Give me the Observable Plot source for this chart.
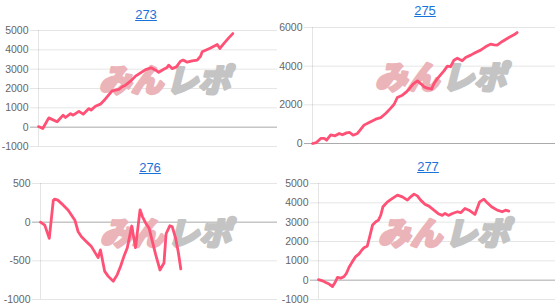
<!DOCTYPE html>
<html><head><meta charset="utf-8">
<script src="https://cdn.jsdelivr.net/npm/d3@7"></script>
<script src="https://cdn.jsdelivr.net/npm/@observablehq/plot@0.6"></script>
<style>
html,body{margin:0;padding:0;background:#fff;}
body{width:555px;height:306px;overflow:hidden;position:relative;font-family:Arial,"Liberation Sans",sans-serif;}
.panel{position:absolute;}
.title{position:absolute;transform:translate(-50%,-50%);font-size:13px;line-height:16px;color:#1a73d9;text-decoration:underline;white-space:nowrap;}
</style></head><body>
<script>
// Machine numbers (panel titles)
const titles = ["273", "275", "276", "277"];

// Progress along the x axis (share of the axis, %) and balance values for each machine
const x273 = [0,1.8,4.3,7.8,10.3,11.3,13.4,14.5,16.9,18.7,21.1,22.0,23.8,25.9,27.3,28.7,30.8,33.6,35.0,36.4,38.5,40.6,42.7,44.8,47.1,49.0,50.3,52.2,53.8,54.5,55.9,57.7,59.4,60.5,62.2,64.3,66.4,67.8,68.5,69.9,72.0,73.4,74.8,75.9,77.6,79.6,81.3];
const y273 = [30,-70,480,280,620,500,700,620,820,670,960,880,1080,1190,1360,1570,1880,1950,2090,2170,2380,2640,2810,2980,3070,2950,2840,2980,3090,3210,3030,3120,3410,3470,3360,3430,3470,3670,3900,3980,4100,4190,4280,4070,4330,4620,4840];

const x275 = [0,1.6,3.4,4.8,5.8,7.5,9.3,11.0,12.3,14.0,15.3,16.7,18.5,19.9,21.2,23.3,26.0,28.1,30.1,32.2,33.6,34.9,37.0,38.4,39.7,41.4,43.2,44.5,45.9,47.3,49.0,50.0,51.4,52.7,54.1,55.5,56.8,58.2,59.6,61.6,63.0,65.1,67.1,69.2,71.2,73.3,74.7,76.0,78.1,80.8,82.9,84.2];
const y275 = [0,50,260,260,170,450,400,520,450,550,570,430,520,740,950,1090,1260,1340,1550,1830,2030,2380,2500,2640,2810,3070,3240,3100,2930,2860,2810,3100,3360,3550,3760,4000,3970,4310,4410,4280,4450,4570,4710,4830,5000,5140,5100,5090,5280,5480,5620,5740];

const x276 = [0,1.8,3.7,5.4,6.0,7.3,8.9,11.7,13.1,14.5,15.9,17.3,19.4,21.5,23.6,24.3,25.3,27.1,28.6,30.7,32.4,33.8,35.2,36.6,38.5,40.1,42.0,43.0,44.4,45.8,47.2,48.6,50.4,52.1,53.0,54.6,55.6,57.0,58.2,59.2];
const y276 = [0,-38,-209,282,298,285,240,154,90,26,-124,-188,-252,-316,-423,-457,-359,-637,-701,-765,-678,-570,-442,-335,-50,-330,160,73,-13,-77,-249,-420,-618,-528,-150,-45,-60,-206,-399,-605];

const x277 = [0,1.7,3.1,4.5,5.9,7.0,8.0,9.4,10.8,11.8,12.9,14.3,15.7,17.1,18.3,19.2,20.6,21.6,22.8,24.2,25.3,26.3,27.2,29.1,31.2,33.3,35.4,37.5,38.9,40.3,41.7,43.1,44.9,46.6,48.7,50.8,52.2,53.4,54.8,56.5,58.6,60.0,61.8,63.5,66.0,68.0,69.8,71.2,73.0,75.4,77.5,78.9,80.3];
const y277 = [30,-35,-120,-200,-330,-120,140,100,190,360,670,960,1220,1360,1560,1680,1770,2250,2850,3020,3110,3370,3800,4050,4230,4400,4310,4140,4310,4450,4360,4140,3930,3830,3620,3420,3350,3450,3350,3450,3540,3490,3710,3620,3400,4050,4190,4000,3800,3620,3540,3620,3570];

// Y axis ticks for each panel
const ticks273 = [-1000,0,1000,2000,3000,4000,5000];
const ticks275 = [0,2000,4000,6000];
const ticks276 = [-1000,-500,0,500];
const ticks277 = [-1000,0,1000,2000,3000,4000,5000];

const watermarkLeft = "みん";
const watermarkRight = "レポ";

const LINE = "#ff5076";
const FONT = "Arial, 'Liberation Sans', sans-serif";

const panels = [
  {title: titles[0], xs: x273, ys: y273, ticks: ticks273, left: 0,   top: 0,   width: 277, height: 150, mt: 30, ml: 38, mb: 4, tx: 146, ty: 15},
  {title: titles[1], xs: x275, ys: y275, ticks: ticks275, left: 275, top: 0,   width: 280, height: 147, mt: 27, ml: 37, mb: 4, tx: 425, ty: 11},
  {title: titles[2], xs: x276, ys: y276, ticks: ticks276, left: 0,   top: 153, width: 277, height: 150, mt: 30, ml: 40, mb: 4, tx: 150, ty: 168},
  {title: titles[3], xs: x277, ys: y277, ticks: ticks277, left: 275, top: 153, width: 280, height: 150, mt: 30, ml: 43, mb: 4, tx: 428, ty: 167}
];

for (const p of panels) {
  const data = p.xs.map((x, i) => ({x, y: p.ys[i]}));
  const wm = {frameAnchor: "middle", dy: -7, fontSize: 32, fontWeight: 900, fontStyle: "italic",
              fontFamily: "'Noto Sans CJK JP', sans-serif", strokeWidth: 2.6, strokeLinejoin: "round"};
  const chart = Plot.plot({
    width: p.width,
    height: p.height,
    marginTop: p.mt,
    marginLeft: p.ml,
    marginRight: 0,
    marginBottom: p.mb,
    x: {domain: [0, 100], axis: null},
    y: {domain: d3.extent(p.ticks), axis: null},
    style: {fontFamily: FONT, fontSize: "10.5px", color: "#666", background: "transparent", overflow: "visible"},
    marks: [
      Plot.gridY(p.ticks, {stroke: "#000", strokeOpacity: 0.1}),
      Plot.ruleY([0], {stroke: "#000", strokeOpacity: 0.25}),
      Plot.ruleX([0], {stroke: "#000", strokeOpacity: 0.1}),
      Plot.axisY(p.ticks, {label: null, tickSize: 8, tickPadding: 2, stroke: "#000", strokeOpacity: 0.1, fill: "#666", fontSize: 10.5, tickFormat: d => String(d)}),
      Plot.axisY([0], {label: null, tickSize: 8, tickPadding: 2, stroke: "#000", strokeOpacity: 0.25, tickFormat: () => ""}),
      Plot.text([watermarkLeft], {...wm, text: d => d, textAnchor: "end", dx: 5, fill: "#ebb4b9", stroke: "#ebb4b9"}),
      Plot.text([watermarkRight], {...wm, text: d => d, textAnchor: "start", dx: 8, fill: "#c4c4c4", stroke: "#c4c4c4"}),
      Plot.line(data, {x: "x", y: "y", stroke: LINE, strokeWidth: 2.8})
    ]
  });
  const div = document.createElement("div");
  div.className = "panel";
  div.style.left = p.left + "px";
  div.style.top = p.top + "px";
  div.appendChild(chart);
  document.body.appendChild(div);

  const t = document.createElement("a");
  t.className = "title";
  t.href = "#";
  t.textContent = p.title;
  t.style.left = p.tx + "px";
  t.style.top = p.ty + "px";
  document.body.appendChild(t);
}
</script>
</body></html>
